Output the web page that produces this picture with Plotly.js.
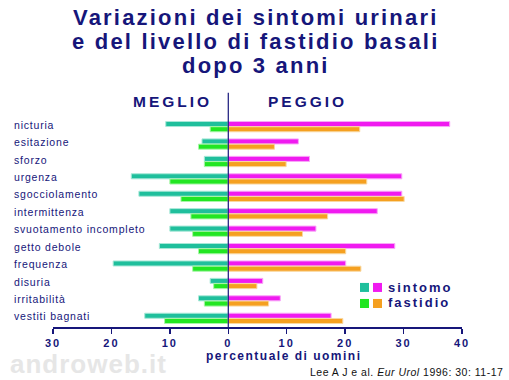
<!DOCTYPE html>
<html><head><meta charset="utf-8">
<script src="https://cdn.plot.ly/plotly-3.0.1.min.js"></script>
<style>body{margin:0;background:#fff}</style>
</head><body><div id="chart" style="width:509px;height:380px"></div>
<script>
const categories = ["nicturia","esitazione","sforzo","urgenza","sgocciolamento","intermittenza","svuotamento incompleto","getto debole","frequenza","disuria","irritabilità","vestiti bagnati"];
// % uomini migliorati (MEGLIO)
const meglioSintomo  = [10.7, 4.5, 4.1, 16.6, 15.3, 10.0, 10.0, 11.8, 19.7, 3.1, 5.1, 14.3];
const meglioFastidio = [3.1, 5.1, 4.1, 10.0, 8.1, 6.4, 6.1, 5.1, 6.1, 2.5, 4.1, 10.9];
// % uomini peggiorati (PEGGIO)
const peggioSintomo  = [37.9, 12.0, 13.9, 29.7, 29.7, 25.5, 15.0, 28.5, 20.1, 5.9, 8.9, 17.6];
const peggioFastidio = [22.5, 7.9, 9.9, 23.7, 30.1, 17.0, 12.7, 20.1, 22.7, 4.9, 6.9, 19.6];
const tickVals = [-30,-20,-10,0,10,20,30,40];
const tickText = ["30","20","10","0","10","20","30","40"];
const titleLines = ["Variazioni dei sintomi urinari","e del livello di fastidio basali","dopo 3 anni"];

const NAVY = "#16167a";
const FONT = "Liberation Sans, Arial, sans-serif";
const W = 509, H = 380, L = 53, R = 47, T = 118.3, B = 53;
const pw = W - L - R, ph = H - T - B;
const px = p => (p - L) / pw;
const py = p => (H - B - p) / ph;
const sp = (s, ls) => `<span style="letter-spacing:${ls}px">${s}</span>`;

const neg = a => a.map(v => -v);
function bar(x, color, line, offset) {
  return {type: "bar", orientation: "h", y: categories, x: x, offset: offset, width: 0.29,
    marker: {color: color, line: {color: line, width: 1}}, hoverinfo: "x+y", showlegend: false};
}
const data = [
  bar(neg(meglioSintomo), "#1fbf9c", "#a8e8d8", -0.30),
  bar(neg(meglioFastidio), "#22e622", "#a8f5a8", 0.0),
  bar(peggioSintomo, "#f01af0", "#f8a8f8", -0.30),
  bar(peggioFastidio, "#f5a020", "#f9d8a0", 0.0)
];

function note(text, x, y, opts) {
  return Object.assign({text: text, x: px(x), y: py(y), xref: "paper", yref: "paper",
    xanchor: "left", yanchor: "middle", showarrow: false}, opts);
}
const ann = [];
titleLines.forEach((t, i) => ann.push(note(sp(t, 2.2), 256, 18 + 24 * i,
  {xanchor: "center", font: {family: FONT, size: 22, color: NAVY, weight: "bold"}})));
ann.push(note(sp("MEGLIO", 3), 131, 102, {font: {family: FONT, size: 15.5, color: NAVY, weight: "bold"}}));
ann.push(note(sp("PEGGIO", 3), 266, 102, {font: {family: FONT, size: 15.5, color: NAVY, weight: "bold"}}));
categories.forEach(c => ann.push({text: sp(c, 0.8), x: px(12), y: c, xref: "paper", yref: "y", yshift: 2,
  xanchor: "left", yanchor: "middle", showarrow: false, font: {family: FONT, size: 10.5, color: NAVY}}));
ann.push(note(sp("percentuale di uomini", 1.5), 204, 356, {font: {family: FONT, size: 12, color: NAVY, weight: "bold"}}));
ann.push(note(sp("sintomo", 2), 386, 288, {font: {family: FONT, size: 13, color: NAVY, weight: "bold"}}));
ann.push(note(sp("fastidio", 2), 386, 303, {font: {family: FONT, size: 13, color: NAVY, weight: "bold"}}));
ann.push(note(sp("androweb.it", 1), 8, 364, {font: {family: FONT, size: 26, color: "#e6e6e6", weight: "bold"}}));
ann.push(note(sp("Lee A J e al. <i>Eur Urol</i> 1996: 30: 11-17", 0.5), 505, 372,
  {xanchor: "right", font: {family: FONT, size: 10.5, color: "#111"}}));

function sq(x0, y0, c) {
  return {type: "rect", xref: "paper", yref: "paper", x0: px(x0), x1: px(x0 + 9), y0: py(y0), y1: py(y0 + 9),
    fillcolor: c, line: {width: 0}};
}
const shapes = [
  {type: "line", xref: "x", yref: "paper", x0: 0, x1: 0, y0: 0, y1: py(93), line: {color: NAVY, width: 1.2}},
  sq(360, 283, "#1fbf9c"), sq(373, 283, "#f01af0"),
  sq(360, 299, "#22e622"), sq(373, 299, "#f5a020")
];

const layout = {
  width: W, height: H, margin: {l: L, r: R, t: T, b: B},
  paper_bgcolor: "#fff", plot_bgcolor: "#fff",
  barmode: "overlay", bargap: 0,
  xaxis: {range: [-30, 40], tickvals: tickVals, ticktext: tickText.map(t => sp(t, 2)),
    showgrid: false, zeroline: false, showline: true, linecolor: NAVY, linewidth: 1.5,
    ticks: "outside", ticklen: 5, tickcolor: NAVY, tickwidth: 1.5,
    tickfont: {family: FONT, size: 11, color: NAVY, weight: "bold"}, fixedrange: true},
  yaxis: {type: "category", range: [11.49, -0.5], showticklabels: false, showgrid: false, zeroline: false,
    showline: false, ticks: "", fixedrange: true},
  annotations: ann, shapes: shapes, showlegend: false
};
Plotly.newPlot("chart", data, layout, {displayModeBar: false, staticPlot: true});
</script></body></html>
